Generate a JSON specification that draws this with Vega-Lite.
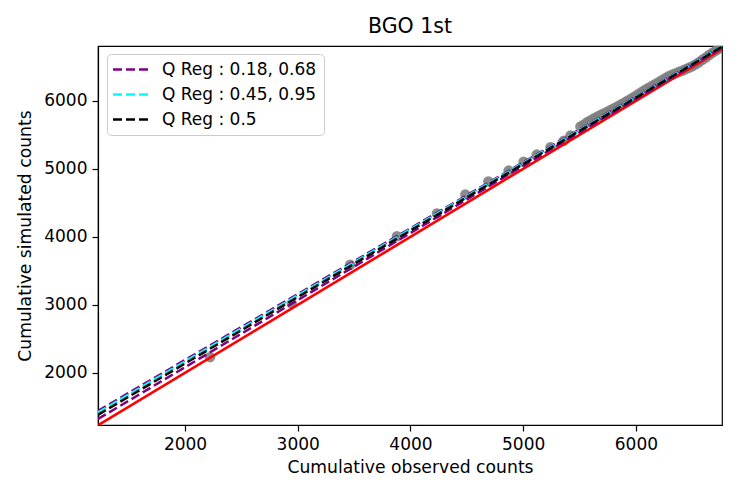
{
  "$schema": "https://vega.github.io/schema/vega-lite/v6.json",
  "width": 624,
  "height": 379,
  "autosize": {"type": "none"},
  "padding": {"left": 98, "top": 46, "right": 25, "bottom": 73},
  "background": "white",
  "title": {
    "text": "BGO 1st",
    "font": "DejaVu Sans",
    "fontSize": 20.5,
    "fontWeight": "normal",
    "color": "black",
    "offset": 9
  },
  "config": {
    "view": {"stroke": "black", "strokeWidth": 1.2},
    "font": "DejaVu Sans",
    "axis": {
      "grid": false,
      "domainColor": "black",
      "domainWidth": 1.2,
      "tickColor": "black",
      "tickSize": 6,
      "tickWidth": 1.2,
      "labelPadding": 5,
      "labelFont": "DejaVu Sans",
      "labelFontSize": 17,
      "labelColor": "black",
      "titleFont": "DejaVu Sans",
      "titleFontSize": 17.2,
      "titleFontWeight": "normal",
      "titleColor": "black"
    }
  },
  "datasets": {
    "points": [
      {"obs": 2222, "sim": 2230},
      {"obs": 2947, "sim": 3020},
      {"obs": 3465, "sim": 3590},
      {"obs": 3880, "sim": 4010},
      {"obs": 4235, "sim": 4345},
      {"obs": 4487, "sim": 4625},
      {"obs": 4691, "sim": 4815},
      {"obs": 4871, "sim": 4975},
      {"obs": 5004, "sim": 5105},
      {"obs": 5120, "sim": 5210},
      {"obs": 5242, "sim": 5320},
      {"obs": 5360, "sim": 5415},
      {"obs": 5419, "sim": 5490},
      {"obs": 5508, "sim": 5625},
      {"obs": 5540, "sim": 5655},
      {"obs": 5570, "sim": 5690},
      {"obs": 5600, "sim": 5715},
      {"obs": 5630, "sim": 5745},
      {"obs": 5660, "sim": 5770},
      {"obs": 5690, "sim": 5795},
      {"obs": 5720, "sim": 5820},
      {"obs": 5750, "sim": 5845},
      {"obs": 5780, "sim": 5870},
      {"obs": 5810, "sim": 5895},
      {"obs": 5840, "sim": 5922},
      {"obs": 5870, "sim": 5950},
      {"obs": 5900, "sim": 5978},
      {"obs": 5930, "sim": 6005},
      {"obs": 5960, "sim": 6035},
      {"obs": 5990, "sim": 6065},
      {"obs": 6020, "sim": 6097},
      {"obs": 6050, "sim": 6130},
      {"obs": 6080, "sim": 6160},
      {"obs": 6110, "sim": 6190},
      {"obs": 6140, "sim": 6218},
      {"obs": 6170, "sim": 6245},
      {"obs": 6200, "sim": 6275},
      {"obs": 6230, "sim": 6305},
      {"obs": 6260, "sim": 6335},
      {"obs": 6290, "sim": 6362},
      {"obs": 6320, "sim": 6385},
      {"obs": 6350, "sim": 6405},
      {"obs": 6380, "sim": 6425},
      {"obs": 6410, "sim": 6445},
      {"obs": 6440, "sim": 6465},
      {"obs": 6470, "sim": 6488},
      {"obs": 6500, "sim": 6510},
      {"obs": 6530, "sim": 6538},
      {"obs": 6560, "sim": 6570},
      {"obs": 6590, "sim": 6605},
      {"obs": 6620, "sim": 6640},
      {"obs": 6650, "sim": 6675},
      {"obs": 6680, "sim": 6710},
      {"obs": 6710, "sim": 6740},
      {"obs": 6740, "sim": 6770},
      {"obs": 6760, "sim": 6790}
    ],
    "ref": [
      {"obs": 1228, "sim": 1228},
      {"obs": 6764, "sim": 6764}
    ],
    "qreg": [
      {"obs": 1228, "sim": 1320, "label": "Q Reg : 0.18, 0.68", "line": "q018"},
      {"obs": 6764, "sim": 6785, "label": "Q Reg : 0.18, 0.68", "line": "q018"},
      {"obs": 1228, "sim": 1440, "label": "Q Reg : 0.18, 0.68", "line": "q068"},
      {"obs": 6764, "sim": 6805, "label": "Q Reg : 0.18, 0.68", "line": "q068"},
      {"obs": 1228, "sim": 1405, "label": "Q Reg : 0.45, 0.95", "line": "q045"},
      {"obs": 6764, "sim": 6798, "label": "Q Reg : 0.45, 0.95", "line": "q045"},
      {"obs": 1228, "sim": 1415, "label": "Q Reg : 0.45, 0.95", "line": "q095"},
      {"obs": 6764, "sim": 6800, "label": "Q Reg : 0.45, 0.95", "line": "q095"},
      {"obs": 1228, "sim": 1382, "label": "Q Reg : 0.5", "line": "q050"},
      {"obs": 6764, "sim": 6795, "label": "Q Reg : 0.5", "line": "q050"}
    ]
  },
  "encoding": {
    "x": {
      "field": "obs",
      "type": "quantitative",
      "title": "Cumulative observed counts",
      "scale": {"domain": [1228, 6764], "nice": false, "zero": false},
      "axis": {"values": [2000, 3000, 4000, 5000, 6000], "format": "d", "titlePadding": 6}
    },
    "y": {
      "field": "sim",
      "type": "quantitative",
      "title": "Cumulative simulated counts",
      "scale": {"domain": [1232, 6808], "nice": false, "zero": false},
      "axis": {"values": [2000, 3000, 4000, 5000, 6000], "format": "d", "titlePadding": 9}
    }
  },
  "layer": [
    {
      "data": {"name": "points"},
      "mark": {"type": "circle", "size": 110, "color": "#808080", "opacity": 0.9, "clip": true}
    },
    {
      "data": {"name": "ref"},
      "mark": {"type": "line", "color": "#ff0000", "strokeWidth": 2.6, "clip": true}
    },
    {
      "data": {"name": "qreg"},
      "mark": {"type": "line", "strokeWidth": 2.5, "strokeDash": [9, 4], "clip": true},
      "encoding": {
        "detail": {"field": "line", "type": "nominal"},
        "color": {
          "field": "label",
          "type": "nominal",
          "scale": {
            "domain": ["Q Reg : 0.18, 0.68", "Q Reg : 0.45, 0.95", "Q Reg : 0.5"],
            "range": ["#800080", "#00ffff", "#000000"]
          },
          "legend": {
            "title": null,
            "orient": "none",
            "legendX": 9,
            "legendY": 8,
            "symbolType": "M-1,0H7",
            "symbolSize": 81,
            "symbolStrokeWidth": 2.5,
            "symbolDash": [9, 4],
            "symbolOffset": -5,
            "labelOffset": 36,
            "labelFont": "DejaVu Sans",
            "labelFontSize": 17,
            "labelColor": "black",
            "rowPadding": 7,
            "padding": 7,
            "fillColor": "rgba(255,255,255,0.8)",
            "strokeColor": "#cccccc",
            "cornerRadius": 4
          }
        }
      }
    }
  ]
}
